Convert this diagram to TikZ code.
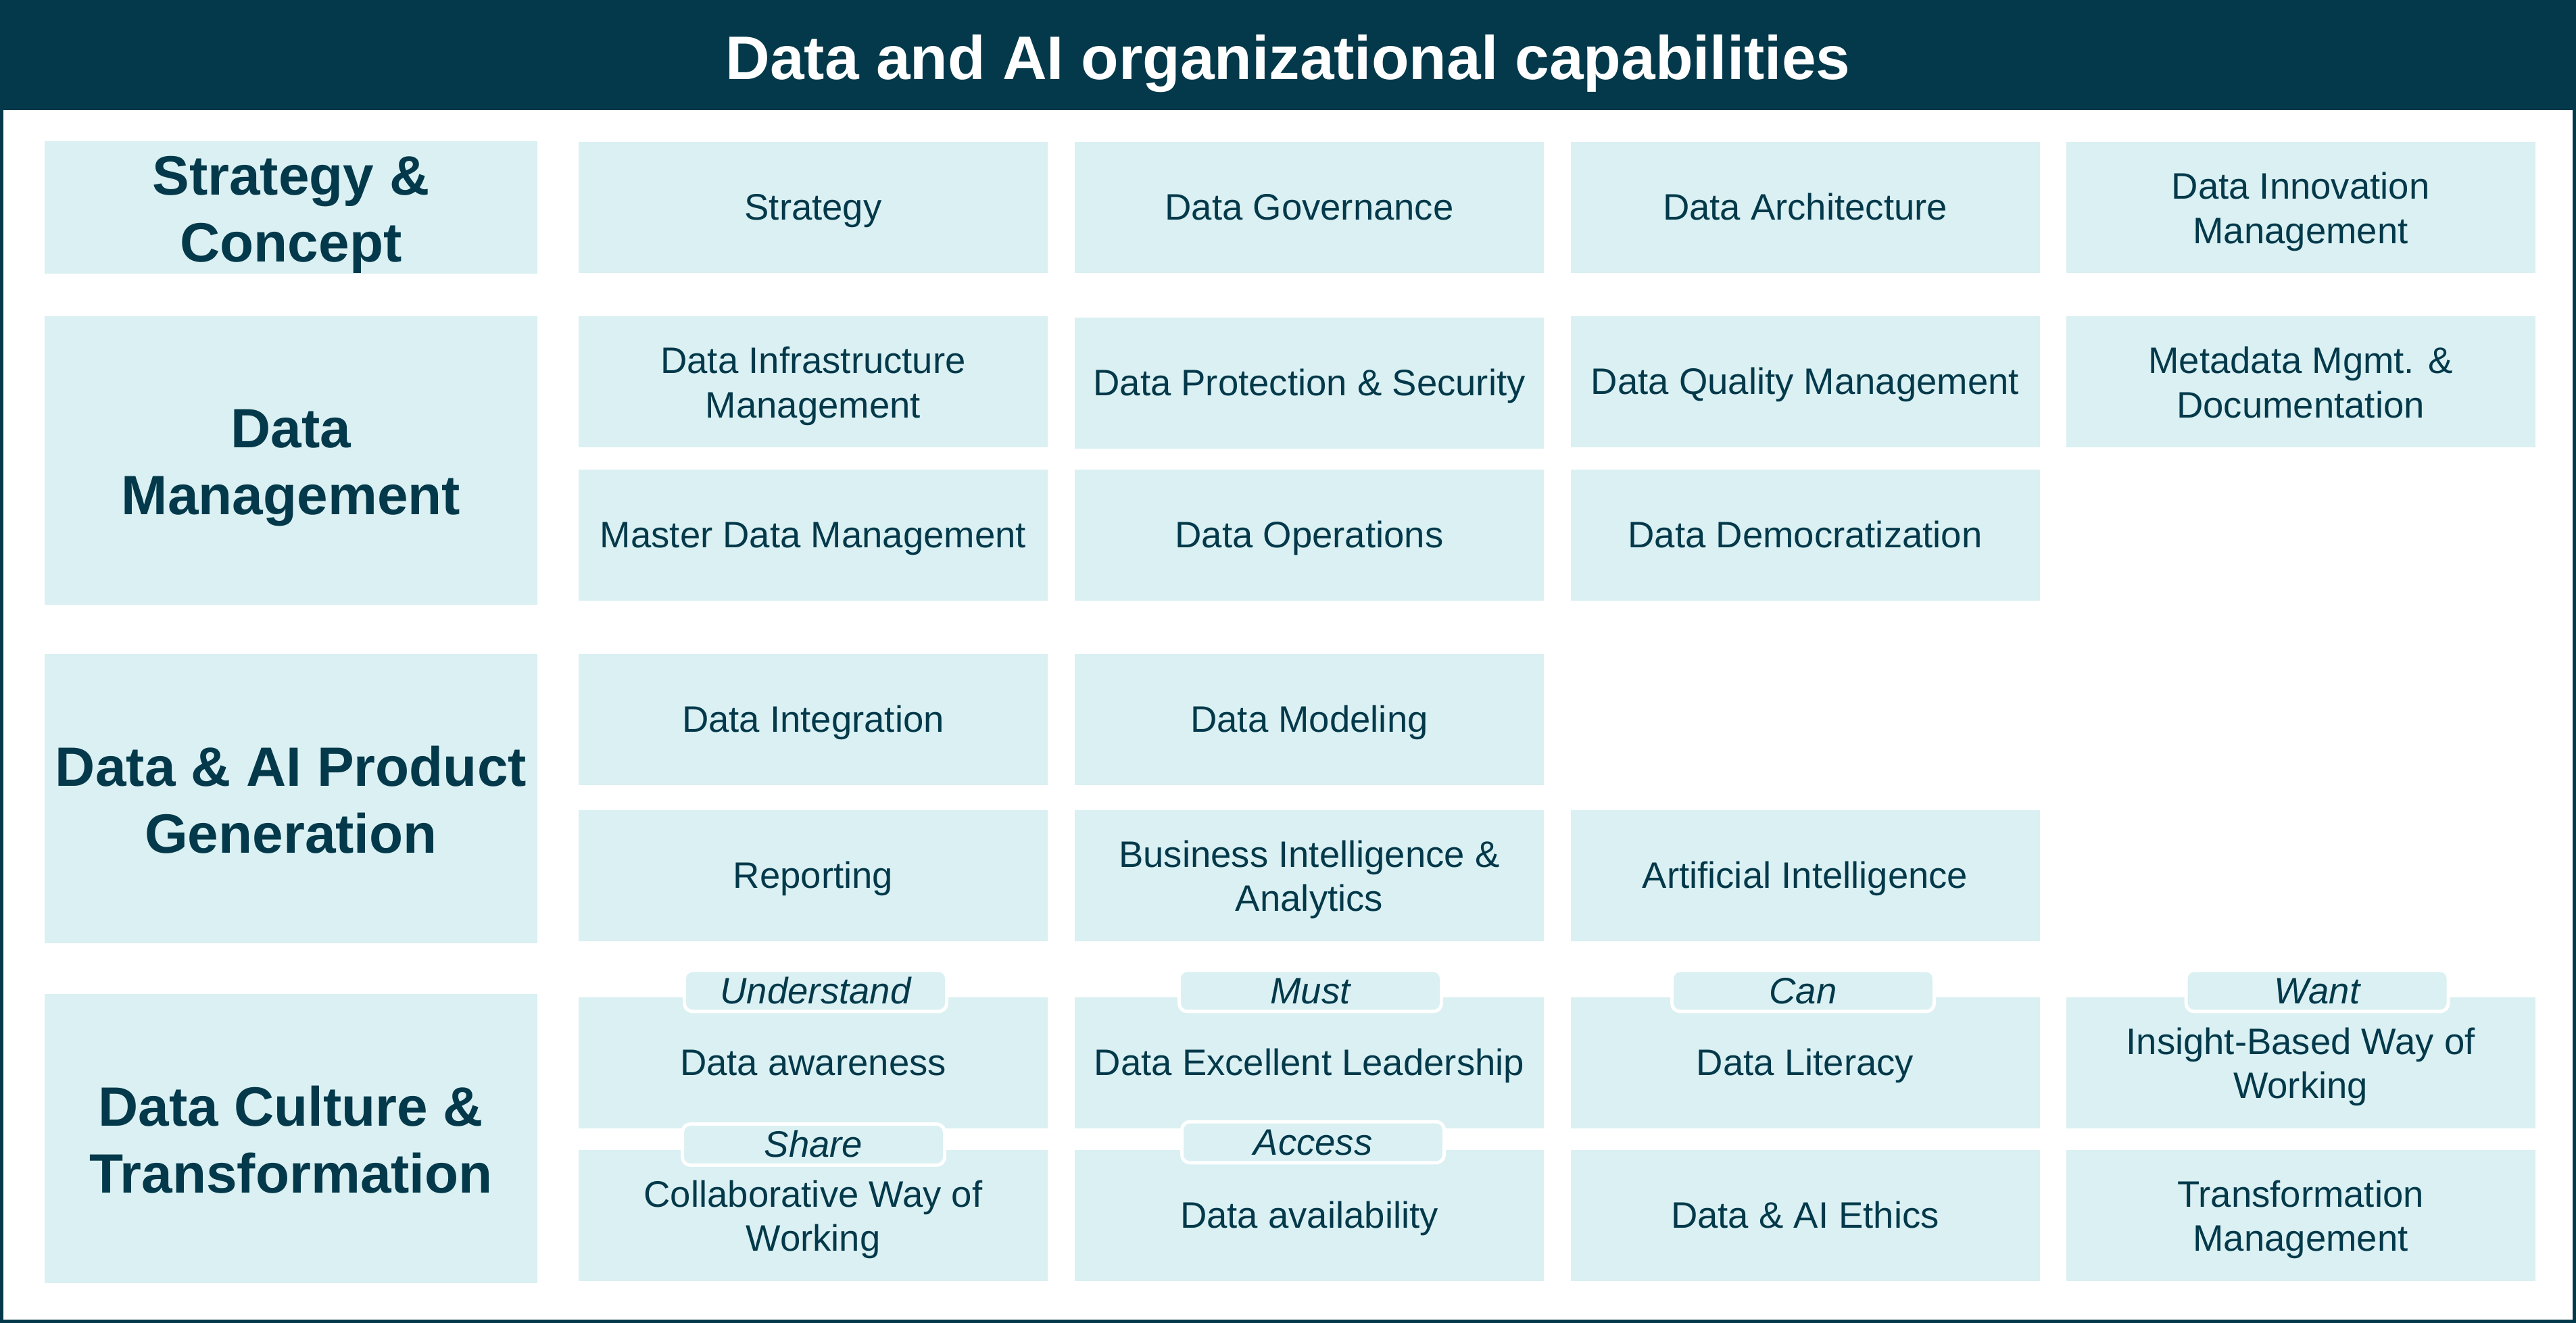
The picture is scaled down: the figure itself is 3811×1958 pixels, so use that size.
\documentclass[tikz,border=0pt]{standalone}
\usepackage{fontspec}
\setmainfont{Liberation Sans}
\definecolor{dk}{HTML}{03394A}
\definecolor{lt}{HTML}{DAF0F2}
\newcommand{\lstr}{\rule[-0.212em]{0pt}{1.117em}}
\newcommand{\fstr}{\rule{0pt}{0.96em}}
\begin{document}
\begin{tikzpicture}[x=1pt,y=-1pt,
 box/.style={fill=lt, inner sep=0pt, align=center, text=dk, execute at begin node=\lstr, execute at end node=\lstr},
 cell/.style={box, minimum width=694pt, minimum height=194pt, font=\fontsize{54.5}{65.5}\selectfont},
 cat/.style={box, minimum width=729pt, font=\fontsize{82}{99}\selectfont\bfseries},
 tag/.style={box, draw=white, line width=5pt, rounded corners=12pt, minimum width=388pt, minimum height=60pt, font=\fontsize{54.5}{65.5}\selectfont\itshape},
 titletext/.style={text=white, inner sep=0pt, font=\fontsize{91}{109}\selectfont\bfseries, execute at begin node=\lstr}
]
\useasboundingbox (0,0) rectangle (3811,1958);
\fill[white] (0,0) rectangle (3811,1958);
\fill[dk] (0,0) rectangle (3811,163);
\draw[dk, line width=5pt] (2.5,2.5) rectangle (3808.5,1955.5);
\node[titletext] (title) at (1905.5,85.5) {Data and AI organizational capabilities};

% category labels
\node[cat, minimum height=194pt] (sc) at (430.5,307) {\fstr Strategy \&\\Concept};
\node[cat, minimum height=427pt] (dm) at (430.5,681.5) {\fstr Data\\Management};
\node[cat, minimum height=428pt] (pg) at (430.5,1182) {\fstr Data \& AI Product\\Generation};
\node[cat, minimum height=428pt] (ct) at (430.5,1685) {\fstr Data Culture \&\\Transformation};

% row 1
\node[cell] (strat) at (1203,307) {Strategy};
\node[cell] (gov) at (1937,307) {Data Governance};
\node[cell] (arch) at (2670.5,307) {Data Architecture};
\node[cell] (innov) at (3403.5,307) {\fstr Data Innovation\\Management};
% row 2
\node[cell] (infra) at (1203,565) {\fstr Data Infrastructure\\Management};
\node[cell] (prot) at (1937,567) {Data Protection \& Security};
\node[cell] (qual) at (2670.5,565) {Data Quality Management};
\node[cell] (meta) at (3403.5,565) {\fstr Metadata Mgmt. \&\\Documentation};
% row 3
\node[cell] (master) at (1203,791.5) {Master Data Management};
\node[cell] (ops) at (1937,791.5) {Data Operations};
\node[cell] (democ) at (2670.5,791.5) {Data Democratization};
% row 4
\node[cell] (integ) at (1203,1065) {Data Integration};
\node[cell] (model) at (1937,1065) {Data Modeling};
% row 5
\node[cell] (report) at (1203,1295.5) {Reporting};
\node[cell] (bi) at (1937,1295.5) {\fstr Business Intelligence \&\\Analytics};
\node[cell] (ai) at (2670.5,1295.5) {Artificial Intelligence};
% row 6
\node[cell] (aware) at (1203,1572.5) {Data awareness};
\node[cell] (lead) at (1937,1572.5) {Data Excellent Leadership};
\node[cell] (lit) at (2670.5,1572.5) {Data Literacy};
\node[cell] (insight) at (3403.5,1572.5) {\fstr Insight-Based Way of\\Working};
% row 7
\node[cell] (collab) at (1203,1798.5) {\fstr Collaborative Way of\\Working};
\node[cell] (avail) at (1937,1798.5) {Data availability};
\node[cell] (ethics) at (2670.5,1798.5) {Data \& AI Ethics};
\node[cell] (transf) at (3403.5,1798.5) {\fstr Transformation\\Management};

% tags
\node[tag] (tunder) at (1206.5,1466.5) {Understand};
\node[tag] (tmust) at (1938.5,1466.5) {Must};
\node[tag] (tcan) at (2667.5,1466.5) {Can};
\node[tag] (twant) at (3428,1466.5) {Want};
\node[tag] (tshare) at (1203.5,1694) {Share};
\node[tag] (taccess) at (1942.5,1690.5) {Access};
\end{tikzpicture}
\end{document}
